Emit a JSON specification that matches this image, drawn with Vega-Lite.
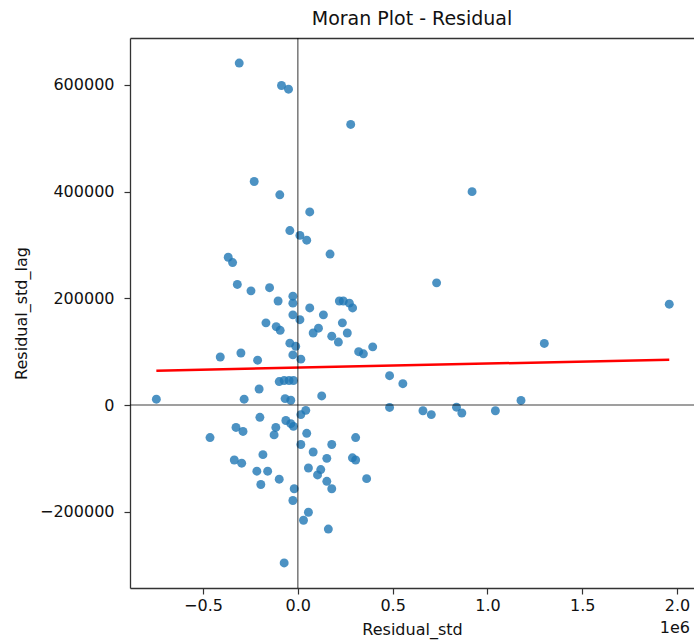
{
  "$schema": "https://vega.github.io/schema/vega-lite/v6.json",
  "width": 564,
  "height": 550,
  "autosize": {"type": "none"},
  "padding": {"left": 130, "top": 38, "right": 0, "bottom": 53},
  "background": "white",
  "title": {"text": "Moran Plot - Residual", "font": "DejaVu Sans", "fontSize": 19, "fontWeight": "normal", "color": "#111", "anchor": "middle", "offset": 8},
  "config": {
    "view": {"stroke": null},
    "axis": {"grid": false, "domain": true, "domainColor": "#333", "domainWidth": 1.3, "tickColor": "#333", "tickWidth": 1.2, "tickSize": 6, "labelPadding": 3, "labelFont": "DejaVu Sans", "labelFontSize": 16, "labelColor": "#111", "titleFont": "DejaVu Sans", "titleFontSize": 16, "titleFontWeight": "normal", "titleColor": "#111"}
  },
  "resolve": {"axis": {"x": "independent"}},
  "datasets": {
    "points": [
      {"x": -309000, "y": 641000}, {"x": -86000, "y": 599000}, {"x": -49000, "y": 592000}, {"x": 279000, "y": 526000},
      {"x": -230000, "y": 419000}, {"x": -95000, "y": 394000}, {"x": 63000, "y": 362000}, {"x": -42000, "y": 327000},
      {"x": 11000, "y": 318000}, {"x": 47000, "y": 309000}, {"x": 170000, "y": 283000}, {"x": -367000, "y": 277000},
      {"x": -344000, "y": 267000}, {"x": -319000, "y": 226000}, {"x": -247000, "y": 214000}, {"x": -149000, "y": 220000},
      {"x": -26000, "y": 204000}, {"x": -104000, "y": 195000}, {"x": -26000, "y": 191000}, {"x": 63000, "y": 182000},
      {"x": 219000, "y": 195000}, {"x": 240000, "y": 195000}, {"x": 272000, "y": 191000}, {"x": 289000, "y": 182000},
      {"x": 135000, "y": 169000}, {"x": -26000, "y": 169000}, {"x": 11000, "y": 160000}, {"x": -168000, "y": 154000},
      {"x": -114000, "y": 147000}, {"x": 235000, "y": 154000}, {"x": 109000, "y": 144000}, {"x": -93000, "y": 140000},
      {"x": 81000, "y": 135000}, {"x": 261000, "y": 135000}, {"x": 179000, "y": 129000}, {"x": 214000, "y": 118000},
      {"x": -42000, "y": 116000}, {"x": -11000, "y": 110000}, {"x": 395000, "y": 109000}, {"x": 321000, "y": 100000},
      {"x": 346000, "y": 96000}, {"x": -300000, "y": 97500}, {"x": -409000, "y": 90000}, {"x": -212000, "y": 84000},
      {"x": -26000, "y": 94000}, {"x": 16000, "y": 86000}, {"x": 484000, "y": 55000}, {"x": 554000, "y": 40000},
      {"x": -98000, "y": 44000}, {"x": -72000, "y": 46000}, {"x": -46000, "y": 46000}, {"x": -23000, "y": 46000},
      {"x": -204000, "y": 30000}, {"x": -746000, "y": 11000}, {"x": -283000, "y": 11000}, {"x": 126000, "y": 17000},
      {"x": -67000, "y": 12000}, {"x": -37000, "y": 9000}, {"x": 484000, "y": -4500}, {"x": 42000, "y": -10000},
      {"x": 16000, "y": -18000}, {"x": -200000, "y": -23000}, {"x": -63000, "y": -29000}, {"x": -37000, "y": -35000},
      {"x": -23000, "y": -40000}, {"x": -326000, "y": -42000}, {"x": -289000, "y": -49500}, {"x": -116000, "y": -42000},
      {"x": -125000, "y": -56000}, {"x": -463000, "y": -61000}, {"x": 47000, "y": -53000}, {"x": 305000, "y": -61000},
      {"x": 16000, "y": -74000}, {"x": 179000, "y": -74000}, {"x": 81000, "y": -88000}, {"x": -184000, "y": -93000},
      {"x": 153000, "y": -100000}, {"x": 288000, "y": -99000}, {"x": 305000, "y": -103000}, {"x": -335000, "y": -103000},
      {"x": -296000, "y": -109000}, {"x": 56000, "y": -118000}, {"x": 121000, "y": -121000}, {"x": 104000, "y": -131000},
      {"x": -216000, "y": -124000}, {"x": -159000, "y": -124000}, {"x": -195000, "y": -149000}, {"x": -98000, "y": -139000},
      {"x": 153000, "y": -143000}, {"x": 179000, "y": -157000}, {"x": 363000, "y": -138000}, {"x": -19000, "y": -157000},
      {"x": -26000, "y": -179000}, {"x": 56000, "y": -201000}, {"x": 30000, "y": -216000}, {"x": 161000, "y": -232500},
      {"x": -72000, "y": -296000}, {"x": 919000, "y": 400000}, {"x": 732000, "y": 229000}, {"x": 1959000, "y": 189000},
      {"x": 1300000, "y": 115500}, {"x": 660000, "y": -10700}, {"x": 704000, "y": -18000}, {"x": 837000, "y": -4000},
      {"x": 865000, "y": -15000}, {"x": 1042000, "y": -10700}, {"x": 1177000, "y": 8600}
    ],
    "fit": [
      {"x": -746000, "y": 64300},
      {"x": 1959000, "y": 85000}
    ],
    "zero": [
      {"v": 0}
    ],
    "offset": [
      {"label": "1e6", "x": 2068000, "y": -343000}
    ]
  },
  "layer": [
    {
      "data": {"name": "points"},
      "mark": {"type": "circle", "size": 80, "color": "#1f77b4", "opacity": 0.8},
      "encoding": {
        "x": {"field": "x", "type": "quantitative", "scale": {"domain": [-885000, 2089500], "nice": false, "zero": false},
              "axis": {"title": "Residual_std", "orient": "bottom", "values": [-500000, 0, 500000, 1000000, 1500000, 2000000], "labelExpr": "replace(format(datum.value/1000000, '.1f'), '-', '\u2212')", "titlePadding": 8}},
        "y": {"field": "y", "type": "quantitative", "scale": {"domain": [-343000, 688000], "nice": false, "zero": false},
              "axis": {"title": "Residual_std_lag", "values": [-200000, 0, 200000, 400000, 600000], "labelExpr": "replace(format(datum.value, 'd'), '-', '\u2212')", "labelPadding": 10, "titlePadding": 10}}
      }
    },
    {
      "data": {"name": "fit"},
      "mark": {"type": "line", "color": "red", "strokeWidth": 2.5},
      "encoding": {
        "x": {"field": "x", "type": "quantitative", "axis": {"orient": "top", "title": null, "labels": false, "ticks": false, "domain": true}},
        "y": {"field": "y", "type": "quantitative"}
      }
    },
    {
      "data": {"name": "zero"},
      "mark": {"type": "rule", "color": "black", "opacity": 0.5, "strokeWidth": 1.6},
      "encoding": {"x": {"field": "v", "type": "quantitative", "axis": null}}
    },
    {
      "data": {"name": "zero"},
      "mark": {"type": "rule", "color": "black", "opacity": 0.5, "strokeWidth": 1.6},
      "encoding": {"y": {"field": "v", "type": "quantitative"}}
    },
    {
      "data": {"name": "offset"},
      "mark": {"type": "text", "font": "DejaVu Sans", "fontSize": 16, "color": "#111", "align": "right", "baseline": "top", "dy": 32},
      "encoding": {
        "x": {"field": "x", "type": "quantitative", "axis": null},
        "y": {"field": "y", "type": "quantitative"},
        "text": {"field": "label"}
      }
    }
  ]
}
